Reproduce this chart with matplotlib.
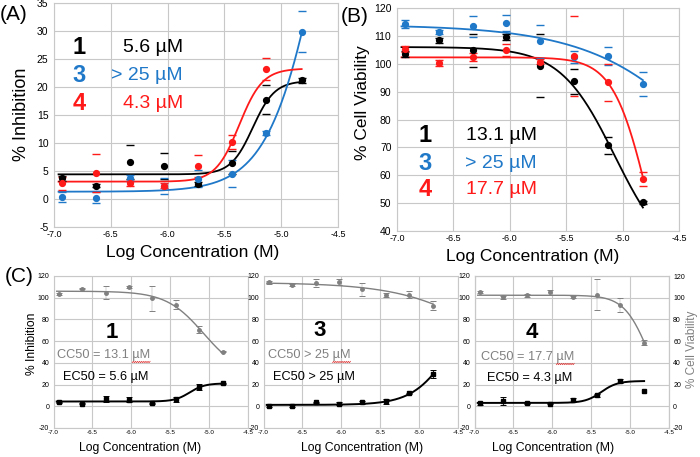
import numpy as np
import matplotlib.pyplot as plt

plt.rcParams['font.family'] = ['Liberation Sans', 'DejaVu Sans']
plt.rcParams['axes.unicode_minus'] = False

# log concentration (M) of the 8 doses
logc = [-6.93, -6.63, -6.33, -6.03, -5.73, -5.43, -5.13, -4.82]

# % inhibition (panel A), mean and error
inh1 = [3.7, 2.4, 6.6, 5.9, 2.7, 6.5, 17.7, 21.2]
inh1_err = [0.4, 0.3, 3.0, 2.4, 0.3, 2.1, 2.6, 0.4]
inh3 = [0.3, 0.2, 3.7, 2.3, 3.6, 4.5, 11.8, 29.9]
inh3_err = [0.9, 1.0, 0.5, 1.4, 1.5, 2.4, 0.4, 3.7]
inh4 = [2.8, 4.7, 2.8, 2.4, 5.9, 10.2, 23.2]
inh4_err = [1.2, 3.4, 0.4, 0.5, 2.0, 1.2, 2.0]
inh4_excluded = 14.5   # point at -4.82 shown only in panel C

# % cell viability (panel B)
via1 = [103.5, 108.4, 104.8, 109.6, 99.3, 93.7, 70.7, 50.3]
via1_err = [1.0, 0.8, 6.0, 1.0, 11.2, 4.5, 3.1, 0.5]
via3 = [114.3, 111.4, 113.4, 114.6, 108.0, 102.4, 102.8, 92.8]
via3_err = [1.4, 0.8, 3.9, 3.0, 6.0, 2.2, 3.2, 4.2]
via4 = [105.3, 100.2, 102.4, 105.0, 100.8, 102.9, 93.3, 58.7]
via4_err = [1.2, 1.0, 1.3, 2.2, 0.8, 14.4, 6.7, 2.5]

# fitted curves: bottom, top, logEC50, hill
fit_inh1 = [4.4, 21.1, -5.25, 4.5]
fit_inh3 = [1.3, 100.0, -4.60, 1.8]
fit_inh4 = [3.1, 23.3, -5.37, 4.2]
fit_via1 = [28.0, 106.0, -5.07, 1.8]
fit_via3 = [0.0, 114.0, -3.92, 0.75]
fit_via4 = [0.0, 102.3, -4.77, 2.8]

ec50 = ['5.6 µM', '> 25 µM', '4.3 µM']
cc50 = ['13.1 µM', '> 25 µM', '17.7 µM']
names = ['1', '3', '4']

BLUE = '#1f78c8'
RED = '#ff1a1a'
GRAY = '#808080'
GRID = '#c8c8c8'

W, H = 700, 457
fig = plt.figure(figsize=(7, 4.57), dpi=100)


def rect(x0, y0, x1, y1):
    return [x0 / W, 1 - y1 / H, (x1 - x0) / W, (y1 - y0) / H]


def ftext(x, y, s, **kw):
    kw.setdefault('ha', 'center')
    kw.setdefault('va', 'center')
    return fig.text(x / W, 1 - y / H, s, **kw)


def curve(p, rising=True):
    b, t, c, h = p
    xx = np.linspace(-6.96, -4.82, 300)
    if rising:
        return xx, b + (t - b) / (1 + 10 ** ((c - xx) * h))
    return xx, b + (t - b) / (1 + 10 ** ((xx - c) * h))


def style(ax, ylo, yhi, ystep, xfs, yfs, pad):
    ax.set_xlim(-7, -4.5)
    ax.set_ylim(ylo, yhi)
    xt = np.arange(-7, -4.49, 0.5)
    ax.set_xticks(xt)
    ax.set_xticklabels(['%.1f' % v for v in xt], fontsize=xfs)
    yt = np.arange(ylo, yhi + 0.1, ystep)
    ax.set_yticks(yt)
    ax.set_yticklabels(['%d' % v for v in yt], fontsize=yfs)
    ax.tick_params(length=0, pad=pad)
    ax.tick_params(axis='x', pad=pad * 0.6)
    ax.grid(color=GRID, lw=0.8)
    ax.set_axisbelow(True)
    for s in ax.spines.values():
        s.set_color(GRID)
        s.set_linewidth(0.8)


def dots(ax, x, y, e, col):
    ax.errorbar(x, y, yerr=e, fmt='o', color=col, ms=4.2, elinewidth=0,
                capsize=2.6, capthick=1.0, zorder=3)


# ---- panel A
axA = fig.add_axes(rect(54, 3, 338, 227))
style(axA, -5, 35, 5, 6.5, 7.5, 4)
for p, col in [(fit_inh1, 'black'), (fit_inh3, BLUE), (fit_inh4, RED)]:
    xx, yy = curve(p, True)
    axA.plot(xx, yy, color=col, lw=1.3)
dots(axA, logc, inh1, inh1_err, 'black')
dots(axA, logc, inh3, inh3_err, BLUE)
dots(axA, logc[:7], inh4, inh4_err, RED)

# ---- panel B
axB = fig.add_axes(rect(397, 8, 679, 231))
style(axB, 40, 120, 10, 6.5, 7.5, 4)
for p, col in [(fit_via1, 'black'), (fit_via3, BLUE), (fit_via4, RED)]:
    xx, yy = curve(p, False)
    axB.plot(xx, yy, color=col, lw=1.3)
dots(axB, logc, via1, via1_err, 'black')
dots(axB, logc, via3, via3_err, BLUE)
dots(axB, logc, via4, via4_err, RED)

# legend-like text in A and B
for i, col in enumerate(['black', BLUE, RED]):
    ya = 48 + i * 27.5
    ftext(79, ya, names[i], color=col, fontsize=17, fontweight='bold')
    ftext(183, ya, ec50[i], color=col, fontsize=14, ha='right')
    yb = 136 + i * 27
    ftext(425, yb, names[i], color=col, fontsize=17, fontweight='bold')
    ftext(537, yb, cc50[i], color=col, fontsize=14, ha='right')

ftext(193, 252, 'Log Concentration (M)', fontsize=12.5)
ftext(533, 256, 'Log Concentration (M)', fontsize=12.5)
ftext(22, 114, '% Inhibition', fontsize=13, rotation=90)
ftext(363, 103, '% Cell Viability', fontsize=12.5, rotation=90)
ftext(14, 14, '(A)', fontsize=15)
ftext(355, 16, '(B)', fontsize=15)
ftext(19, 276, '(C)', fontsize=15)

# ---- panel C
c_lefts = [53.6, 263.6, 474.6]
inh_sets = [(inh1, inh1_err, fit_inh1), (inh3, inh3_err, fit_inh3), (inh4, inh4_err, fit_inh4)]
via_sets = [(via1, via1_err, fit_via1), (via3, via3_err, fit_via3), (via4, via4_err, fit_via4)]
big_pos = [(112, 332), (320, 331), (532, 333)]
cc_pos = [(57, 355), (268, 355), (481, 357)]
ec_pos = [(63, 377), (273, 377), (487, 378)]
xl_pos = [(140, 448), (362, 448), (553, 448)]
cc_texts = []

for k in range(3):
    ax = fig.add_axes(rect(c_lefts[k], 276, c_lefts[k] + 194.4, 428))
    style(ax, -20, 120, 20, 4.5, 5, 3)
    vy, ve, vf = via_sets[k]
    xx, yy = curve(vf, False)
    ax.plot(xx, yy, color=GRAY, lw=1.0)
    ax.errorbar(logc, vy, yerr=ve, fmt='o', color=GRAY, ms=2.5, elinewidth=0.25,
                capsize=2, capthick=0.7, zorder=3)
    iy, ie, iff = inh_sets[k]
    xx, yy = curve(iff, True)
    ax.plot(xx, yy, color='black', lw=1.4)
    ax.errorbar(logc[:len(iy)], iy, yerr=ie, fmt='s', color='black', ms=2.3,
                elinewidth=0.6, capsize=2, capthick=0.7, zorder=3)
    if k == 2:
        ax.plot([logc[7]], [inh4_excluded], 's', color='black', ms=2.3)
        ax2 = ax.twinx()
        ax2.set_ylim(-20, 120)
        ax2.set_yticks(np.arange(-20, 121, 20))
        ax2.set_yticklabels(['%d' % v for v in np.arange(-20, 121, 20)], fontsize=5)
        ax2.tick_params(length=0, pad=3)
        for s in ax2.spines.values():
            s.set_color(GRID)
            s.set_linewidth(0.8)
    ftext(big_pos[k][0], big_pos[k][1], names[k], fontsize=16, fontweight='bold')
    t = ftext(cc_pos[k][0], cc_pos[k][1],
              'CC50 ' + ('' if cc50[k].startswith('>') else '= ') + cc50[k],
              fontsize=9.2, color=GRAY, ha='left')
    cc_texts.append((t, cc_pos[k][1]))
    ftext(ec_pos[k][0], ec_pos[k][1], 'EC50 ' + ('' if ec50[k].startswith('>') else '= ') + ec50[k],
          fontsize=9.2, ha='left')
    ftext(xl_pos[k][0], xl_pos[k][1], 'Log Concentration (M)', fontsize=8.8)

ftext(32, 344, '% Inhibition', fontsize=8.7, rotation=90)
ftext(692, 349, '% Cell Viability', fontsize=8.5, rotation=90, color=GRAY)

# red spell-check squiggle under the "µM" of each CC50 text
fig.canvas.draw()
r = fig.canvas.get_renderer()
tmp = ftext(0, 0, 'µM', fontsize=9.2)
mu_w = tmp.get_window_extent(r).width
tmp.remove()
for t, yc in cc_texts:
    bb = t.get_window_extent(r)
    sx = np.linspace(bb.x1 - mu_w, bb.x1, 18)
    sy = (yc + 7) + 0.7 * np.where(np.arange(18) % 2 == 0, 1, -1)
    fig.add_artist(plt.Line2D(sx / W, 1 - sy / H, color='#e03030', lw=0.5))

fig.savefig('out.png', dpi=100)
